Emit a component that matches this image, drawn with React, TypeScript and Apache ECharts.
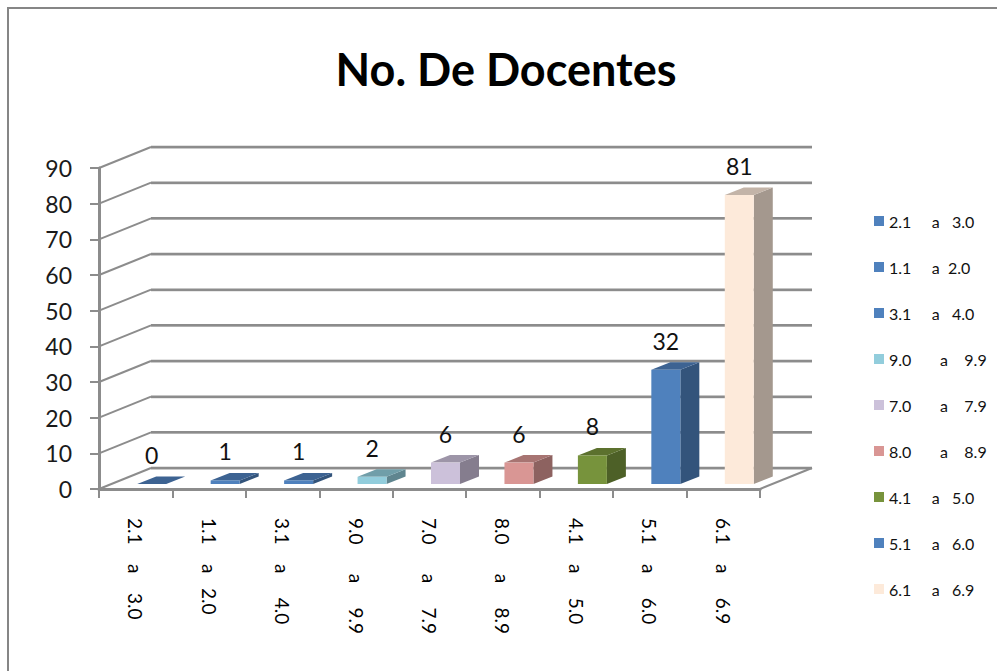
import React, { useEffect, useRef } from "react";
import * as echarts from "echarts";

const NB = "\u00A0";
const sp = (n: number) => NB.repeat(n);

// categories (x axis labels, as printed under the floor)
const categories = [
  `2.1${sp(4)}a${sp(4)}3.0`,
  `1.1${sp(4)}a${sp(3)}2.0`,
  `3.1${sp(4)}a${sp(5)}4.0`,
  `9.0${sp(6)}a${sp(5)}9.9`,
  `7.0${sp(6)}a${sp(5)}7.9`,
  `8.0${sp(6)}a${sp(5)}8.9`,
  `4.1${sp(4)}a${sp(5)}5.0`,
  `5.1${sp(4)}a${sp(5)}6.0`,
  `6.1${sp(4)}a${sp(5)}6.9`,
];
// legend labels
const legendLabels = [
  `2.1${sp(5)}a${sp(3)}3.0`,
  `1.1${sp(5)}a${sp(2)}2.0`,
  `3.1${sp(5)}a${sp(3)}4.0`,
  `9.0${sp(7)}a${sp(4)}9.9`,
  `7.0${sp(7)}a${sp(4)}7.9`,
  `8.0${sp(7)}a${sp(4)}8.9`,
  `4.1${sp(5)}a${sp(3)}5.0`,
  `5.1${sp(5)}a${sp(3)}6.0`,
  `6.1${sp(5)}a${sp(3)}6.9`,
];
const values = [0, 1, 1, 2, 6, 6, 8, 32, 81];
const colors = [
  "#4F81BD",
  "#4F81BD",
  "#4F81BD",
  "#92CDDC",
  "#CCC1DA",
  "#D99694",
  "#77933C",
  "#4F81BD",
  "#FDEADA",
];
const yTicks = [0, 10, 20, 30, 40, 50, 60, 70, 80, 90];

const FONT = "Lato, 'Open Sans', sans-serif";
const GRID_COLOR = "#8c8c8c";
const DEPTH_X = 52;
const DEPTH_Y = -21;

function shade(hex: string, k: number): string {
  const n = parseInt(hex.slice(1), 16);
  const r = Math.round(((n >> 16) & 255) * k);
  const g = Math.round(((n >> 8) & 255) * k);
  const b = Math.round((n & 255) * k);
  return "rgb(" + r + "," + g + "," + b + ")";
}

export default function App() {
  const ref = useRef<HTMLDivElement>(null);
  useEffect(() => {
    if (!ref.current) return;
    const chart = echarts.init(ref.current, undefined, { renderer: "svg" });

    const wallSeries: any = {
      type: "custom",
      name: "__walls",
      silent: true,
      z: 1,
      clip: false,
      data: yTicks.map((v) => [0, v]),
      renderItem: (params: any, api: any) => {
        const v = api.value(1);
        const y = api.coord([0, v])[1];
        const left = params.coordSys.x;
        const right = params.coordSys.x + params.coordSys.width;
        const children: any[] = [
          {
            type: "line",
            shape: { x1: left, y1: y, x2: left + DEPTH_X, y2: y + DEPTH_Y },
            style: { stroke: GRID_COLOR, lineWidth: 2 },
          },
          {
            type: "line",
            shape: { x1: left + DEPTH_X, y1: y + DEPTH_Y + 1, x2: right + DEPTH_X, y2: y + DEPTH_Y + 1 },
            style: { stroke: "#d4d4d4", lineWidth: 1.5 },
          },
          {
            type: "line",
            shape: { x1: left + DEPTH_X, y1: y + DEPTH_Y, x2: right + DEPTH_X, y2: y + DEPTH_Y },
            style: { stroke: GRID_COLOR, lineWidth: 2.5 },
          },
        ];
        if (v === 0) {
          children.push({
            type: "line",
            shape: { x1: right, y1: y, x2: right + DEPTH_X, y2: y + DEPTH_Y },
            style: { stroke: GRID_COLOR, lineWidth: 2 },
          });
        }
        return { type: "group", children };
      },
    };

    const barSeries = values.map((val, i) => ({
      type: "custom",
      name: legendLabels[i],
      z: 3,
      clip: false,
      itemStyle: { color: colors[i] },
      data: [[i, val]],
      renderItem: (params: any, api: any) => {
        const idx = api.value(0);
        const v = api.value(1);
        const base = api.coord([idx, 0]);
        const top = api.coord([idx, v]);
        const cx = base[0] + 16;
        const y0 = base[1] - 5;
        const y1 = top[1] - 5;
        const w = 29;
        const x0 = cx - w / 2;
        const x1 = cx + w / 2;
        const dx = 19;
        const dy = -7.5;
        const c = colors[i];
        return {
          type: "group",
          children: [
            {
              type: "polygon",
              shape: { points: [[x1, y1], [x1 + dx, y1 + dy], [x1 + dx, y0 + dy], [x1, y0]] },
              style: { fill: shade(c, 0.65) },
            },
            {
              type: "polygon",
              shape: { points: [[x0, y1], [x1, y1], [x1 + dx, y1 + dy], [x0 + dx, y1 + dy]] },
              style: { fill: shade(c, 0.77) },
            },
            {
              type: "rect",
              shape: { x: x0, y: y1, width: w, height: Math.max(0, y0 - y1) },
              style: { fill: c },
            },
            {
              type: "text",
              style: {
                text: String(v),
                x: cx,
                y: y1 - 29,
                align: "center",
                verticalAlign: "middle",
                fontSize: 23,
                fontFamily: FONT,
                fill: "#111",
              },
            },
          ],
        };
      },
    }));

    chart.setOption({
      animation: false,
      backgroundColor: "#ffffff",
      title: {
        text: "No. De Docentes",
        left: 501,
        top: 41,
        textAlign: "center",
        textStyle: { fontSize: 45, fontWeight: "bold", fontFamily: FONT, color: "#000" },
      },
      graphic: [
        {
          type: "rect",
          shape: { x: 8, y: 8, width: 1200, height: 1000 },
          style: { fill: "none", stroke: "#868686", lineWidth: 2 },
          silent: true,
          z: 0,
        },
      ],
      legend: {
        data: legendLabels,
        orient: "vertical",
        left: 869,
        top: 208,
        itemWidth: 10,
        itemHeight: 10,
        itemGap: 30,
        icon: "rect",
        textStyle: { fontSize: 16, fontFamily: FONT, color: "#111", lineHeight: 14 },
      },
      grid: { left: 99, right: 237, top: 168, bottom: 182, containLabel: false },
      xAxis: {
        type: "category",
        data: categories,
        axisLine: { show: true, lineStyle: { color: GRID_COLOR, width: 3 } },
        axisTick: { show: true, length: 9, interval: 0, lineStyle: { color: GRID_COLOR, width: 2 } },
        axisLabel: {
          interval: 0,
          rotate: -90,
          margin: 29,
          fontSize: 19,
          fontFamily: FONT,
          color: "#000",
        },
        splitLine: { show: false },
      },
      yAxis: {
        type: "value",
        min: 0,
        max: 90,
        interval: 10,
        axisLine: { show: true, lineStyle: { color: GRID_COLOR, width: 3 } },
        axisTick: { show: true, length: 9, lineStyle: { color: GRID_COLOR, width: 2 } },
        axisLabel: { fontSize: 23, fontFamily: FONT, color: "#1a1a1a", margin: 27 },
        splitLine: { show: false },
      },
      series: [wallSeries, ...barSeries],
    });
    return () => chart.dispose();
  }, []);
  return (
    <div
      ref={ref}
      style={{ position: "fixed", left: 0, top: 0, width: 997, height: 671 }}
    />
  );
}
